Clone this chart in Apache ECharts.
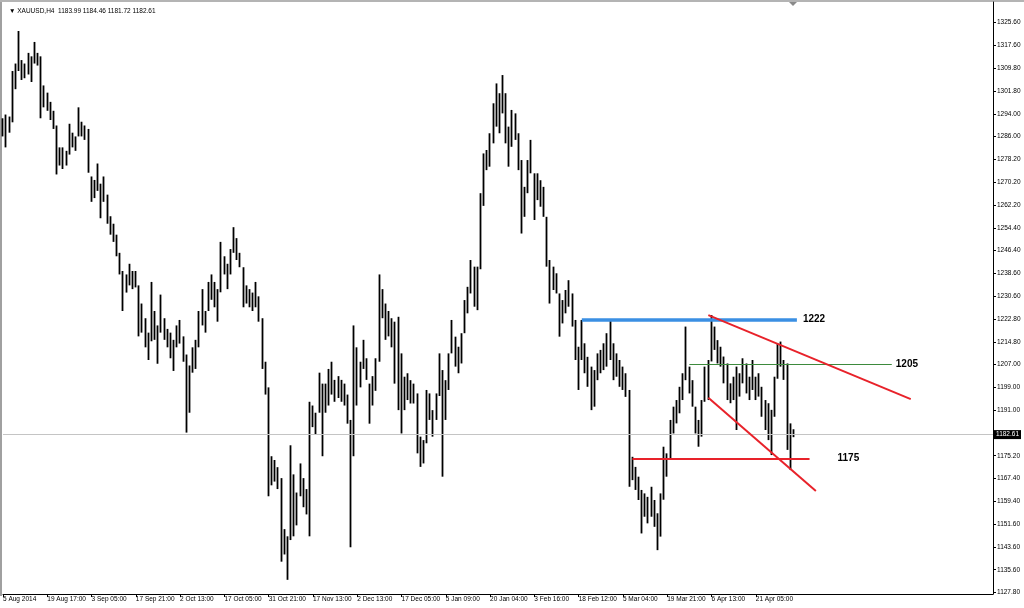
<!DOCTYPE html>
<html><head><meta charset="utf-8">
<script src="https://cdn.jsdelivr.net/npm/echarts@6/dist/echarts.min.js"></script>
<style>html,body{margin:0;padding:0;background:#fff}#c{width:1024px;height:608px}</style>
</head><body><div id="c"></div>
<script>
// ---------- data ----------
const symbolName = 'XAUUSD,H4';
const lastOHLC = [1183.99, 1184.46, 1181.72, 1182.61];
const currentPrice = 1182.61;

const xTickLabels = ["5 Aug 2014","19 Aug 17:00","3 Sep 05:00","17 Sep 21:00","2 Oct 13:00","17 Oct 05:00","31 Oct 21:00","17 Nov 13:00","2 Dec 13:00","17 Dec 05:00","5 Jan 09:00","20 Jan 04:00","3 Feb 16:00","18 Feb 12:00","5 Mar 04:00","19 Mar 21:00","6 Apr 13:00","21 Apr 05:00"];
const yTickLabels = ["1127.80","1135.60","1143.60","1151.60","1159.40","1167.40","1175.20","1183.20","1191.00","1199.00","1207.00","1214.80","1222.80","1230.60","1238.60","1246.40","1254.40","1262.20","1270.20","1278.20","1286.00","1294.00","1301.80","1309.80","1317.60","1325.60"];

const barsPerTick = 14;
const totalSlots = 314;

const barLow = [
1286.1,1282.3,1287.4,1291.0,1302.5,1308.8,1305.7,1306.3,1307.6,1305.0,
1311.4,1310.7,1292.4,1296.2,1295.0,1291.8,1288.7,1272.9,1276.0,1274.8,
1276.0,1279.8,1282.3,1281.1,1286.1,1286.1,1284.9,1273.5,1263.4,1264.7,
1267.2,1257.7,1263.4,1255.8,1252.0,1249.5,1244.5,1238.2,1225.5,1231.9,
1234.4,1233.1,1233.7,1216.7,1218.0,1212.9,1208.5,1215.0,1215.5,1207.2,
1218.0,1215.5,1212.9,1209.1,1204.7,1212.9,1214.2,1207.9,1183.3,1190.2,
1204.1,1205.4,1212.9,1220.5,1218.0,1225.5,1229.4,1226.8,1221.8,1232.0,
1238.2,1233.1,1238.2,1245.7,1243.2,1240.7,1226.8,1228.1,1226.8,1225.5,
1226.8,1221.8,1205.4,1196.5,1161.2,1165.0,1166.3,1163.7,1138.5,1141.0,
1132.2,1146.0,1147.3,1151.1,1161.2,1157.4,1154.9,1147.3,1185.2,1182.6,
1190.2,1175.1,1190.2,1192.7,1196.5,1194.0,1195.3,1194.0,1192.7,1186.4,
1143.5,1175.1,1192.7,1199.0,1205.4,1201.6,1186.4,1192.7,1197.8,1207.9,
1223.0,1215.5,1216.7,1212.9,1200.3,1191.1,1183.0,1191.1,1194.6,1193.4,
1193.4,1176.1,1171.4,1172.6,1179.6,1187.7,1181.9,1187.7,1196.0,1168.0,
1187.7,1198.1,1210.8,1206.2,1203.9,1207.3,1217.8,1224.7,1231.6,1227.0,
1225.8,1240.0,1262.0,1274.4,1275.6,1283.7,1289.5,1287.2,1294.1,1283.7,
1275.6,1282.5,1284.9,1274.4,1252.4,1258.2,1266.4,1273.3,1257.1,1264.0,
1261.7,1258.2,1240.9,1228.1,1232.8,1231.6,1216.6,1221.2,1224.7,1227.0,
1220.1,1208.5,1198.1,1208.5,1203.9,1199.2,1191.1,1192.3,1201.5,1203.9,
1205.0,1206.2,1208.5,1201.5,1202.7,1199.2,1198.1,1195.7,1164.5,1166.8,
1163.4,1159.9,1148.3,1154.1,1151.8,1154.1,1150.6,1142.5,1147.2,1160.0,
1168.0,1173.8,1183.0,1186.5,1190.0,1194.6,1201.5,1196.9,1192.3,1183.0,
1178.4,1181.9,1194.0,1194.6,1208.0,1212.0,1207.3,1206.2,1200.4,1194.6,
1193.5,1194.6,1184.2,1195.8,1200.4,1196.9,1194.6,1198.1,1194.6,1195.8,
1188.8,1184.2,1180.7,1175.5,1188.8,1202.0,1206.2,1201.6,1177.3,1170.3,
1181.72];
const barHigh = [
1292.4,1293.7,1293.0,1308.8,1311.4,1322.7,1312.6,1311.4,1315.1,1313.9,
1318.9,1315.1,1313.9,1303.8,1301.3,1298.1,1295.0,1289.9,1282.3,1282.3,
1281.1,1290.5,1287.4,1286.1,1296.2,1291.2,1289.9,1288.7,1272.2,1271.0,
1276.7,1269.7,1272.2,1265.9,1258.4,1255.8,1252.0,1245.7,1239.4,1238.2,
1241.9,1239.4,1239.4,1234.4,1228.1,1223.0,1218.0,1235.6,1225.5,1220.5,
1231.2,1223.0,1219.3,1218.0,1215.5,1220.5,1222.4,1216.7,1210.4,1206.6,
1212.9,1215.5,1225.5,1233.1,1225.5,1235.6,1238.2,1235.6,1233.1,1249.5,
1244.5,1241.9,1247.0,1254.6,1250.8,1245.7,1240.7,1234.4,1233.1,1231.9,
1235.6,1230.6,1223.0,1207.9,1199.0,1175.1,1173.8,1171.3,1167.5,1149.8,
1147.3,1178.9,1168.8,1162.5,1172.6,1167.5,1163.7,1194.0,1192.7,1190.2,
1204.1,1200.3,1200.3,1205.4,1207.9,1201.6,1202.9,1201.6,1200.3,1196.5,
1187.7,1220.5,1212.9,1207.9,1215.5,1209.1,1200.3,1202.9,1209.1,1238.2,
1233.1,1228.1,1225.5,1223.0,1221.8,1223.5,1210.8,1202.7,1203.9,1201.5,
1200.3,1196.9,1181.9,1180.7,1198.1,1196.9,1191.1,1196.9,1210.8,1205.0,
1201.5,1210.8,1222.4,1216.6,1213.1,1217.8,1229.3,1233.9,1243.2,1240.9,
1240.9,1266.4,1280.2,1281.4,1287.2,1297.6,1304.5,1301.1,1307.4,1301.1,
1289.5,1295.3,1294.1,1287.2,1277.9,1268.6,1277.9,1284.9,1273.3,1273.3,
1270.9,1268.6,1258.2,1243.2,1240.9,1238.6,1231.6,1229.3,1232.8,1236.2,
1231.6,1222.4,1213.1,1222.4,1214.3,1209.6,1206.2,1205.0,1210.8,1212.0,
1214.3,1217.8,1222.6,1214.3,1210.8,1208.5,1206.2,1203.9,1198.1,1174.9,
1171.4,1168.0,1163.4,1162.2,1161.0,1164.5,1159.9,1155.3,1162.2,1178.4,
1176.1,1187.7,1192.3,1194.6,1199.2,1203.9,1220.1,1206.2,1201.5,1192.3,
1187.7,1194.6,1206.2,1208.5,1224.1,1220.1,1215.4,1213.1,1209.7,1207.3,
1200.4,1202.7,1206.2,1203.9,1209.1,1207.3,1202.7,1208.5,1202.7,1203.9,
1199.2,1194.6,1193.5,1191.2,1202.7,1214.3,1214.9,1208.5,1207.3,1186.5,
1184.46];

// drawn levels: [startIndex, endIndex, price]
const level1222 = [183, 251, 1222.6];
const level1205 = [217, 281, 1207.1];
const level1175 = [199, 255, 1174.3];
const levelTexts = ['1222', '1205', '1175'];
// trend lines: [[index, price], [index, price]]
const upperTrend = [[223, 1224.1], [287, 1194.9]];
const lowerTrend = [[223, 1195.4], [257, 1163.0]];

// ---------- chart ----------
const FONT = "'Liberation Sans', Arial, 'DejaVu Sans', sans-serif";
const slots = Array.from({length: totalSlots}, (_, i) => String(i));
const isTick = (idx) => idx % barsPerTick === 0 && idx / barsPerTick < xTickLabels.length;
// MT4 line-bars: a plain high-low stroke per bar (zero-height body at the low)
const candles = barLow.map((lo, i) => [lo, lo, lo, barHigh[i]]);

function hLevel(lv, color, width, text, dist) {
  return [
    {coord: [lv[0], lv[2]], lineStyle: {color: color, width: width, type: 'solid'},
     label: {show: true, position: 'end', formatter: text, fontWeight: 'bold', fontSize: 10,
             color: '#000', fontFamily: FONT, distance: dist}},
    {coord: [lv[1], lv[2]]}
  ];
}
function trend(t) {
  return [
    {coord: t[0], lineStyle: {color: '#e8222a', width: 2, type: 'solid'}, label: {show: false}},
    {coord: t[1]}
  ];
}

const chart = echarts.init(document.getElementById('c'), null, {renderer: 'canvas'});
chart.setOption({
  animation: false,
  backgroundColor: '#fff',
  title: {
    text: '\u25BC ' + symbolName + '  ' + lastOHLC.map(v => v.toFixed(2)).join(' '),
    left: 4, top: 3,
    textStyle: {fontSize: 6.5, fontWeight: 'normal', color: '#000', fontFamily: FONT}
  },
  grid: [
    {left: 2, right: 31, top: 2, bottom: 14},
    {left: 2, right: 31, top: 22.7, bottom: 15.5}
  ],
  xAxis: [
    {gridIndex: 0, type: 'category', data: slots, boundaryGap: false,
     axisLine: {show: true, onZero: false, lineStyle: {color: '#000', width: 1}},
     axisTick: {show: true, interval: (i) => isTick(i), length: 3, lineStyle: {color: '#000'}},
     axisLabel: {interval: (i) => isTick(i), formatter: (v, i) => xTickLabels[i / barsPerTick] || '',
                 align: 'left', margin: 2, fontSize: 6.5, color: '#000', fontFamily: FONT},
     splitLine: {show: false}},
    {gridIndex: 1, type: 'value', show: false, min: 0, max: 1,
     axisLine: {show: false, onZero: false}, axisTick: {show: false}, axisLabel: {show: false}, splitLine: {show: false}}
  ],
  yAxis: [
    {gridIndex: 0, type: 'value', min: 1127.28, max: 1332.76, position: 'right', scale: true,
     axisLine: {show: true, onZero: false, lineStyle: {color: '#000', width: 1}},
     axisTick: {show: false}, axisLabel: {show: false}, splitLine: {show: false}},
    {gridIndex: 1, type: 'category', data: yTickLabels, boundaryGap: false, position: 'right',
     axisLine: {show: false, onZero: false},
     axisTick: {show: true, interval: 0, length: 3, lineStyle: {color: '#000'}},
     axisLabel: {interval: 0, margin: 4, fontSize: 6.5, color: '#000', fontFamily: FONT,
                 formatter: (v) => Math.abs(parseFloat(v) - currentPrice) < 3 ? '' : v},
     splitLine: {show: false}}
  ],
  graphic: [
    {type: 'rect', shape: {x: 0, y: 0, width: 2, height: 596}, style: {fill: '#a0a0a0'}},
    {type: 'rect', shape: {x: 0, y: 0, width: 1024, height: 2}, style: {fill: '#b4b4b4'}},
    {type: 'polygon', shape: {points: [[789, 2], [797, 2], [793, 6]]}, style: {fill: '#8a8a8a'}}
  ],
  series: [{
    type: 'candlestick', xAxisIndex: 0, yAxisIndex: 0,
    data: candles,
    barWidth: 1,
    itemStyle: {color: '#000', color0: '#000', borderColor: '#000', borderColor0: '#000', borderWidth: 1.8},
    markLine: {
      silent: true, animation: false, symbol: ['none', 'none'],
      data: [
        {yAxis: currentPrice, lineStyle: {color: '#c4c4c4', width: 1, type: 'solid'},
         label: {show: true, position: 'end', formatter: currentPrice.toFixed(2), backgroundColor: '#000',
                 color: '#fff', fontSize: 6.5, fontFamily: FONT, padding: [1, 2, 1, 2], distance: 1}},
        hLevel(level1222, '#3a8fe3', 3.5, levelTexts[0], 6),
        hLevel(level1205, '#3d8a3d', 1, levelTexts[1], 4),
        hLevel(level1175, '#e8222a', 2, levelTexts[2], 28),
        trend(upperTrend),
        trend(lowerTrend)
      ]
    }
  }]
});
</script>
</body></html>
